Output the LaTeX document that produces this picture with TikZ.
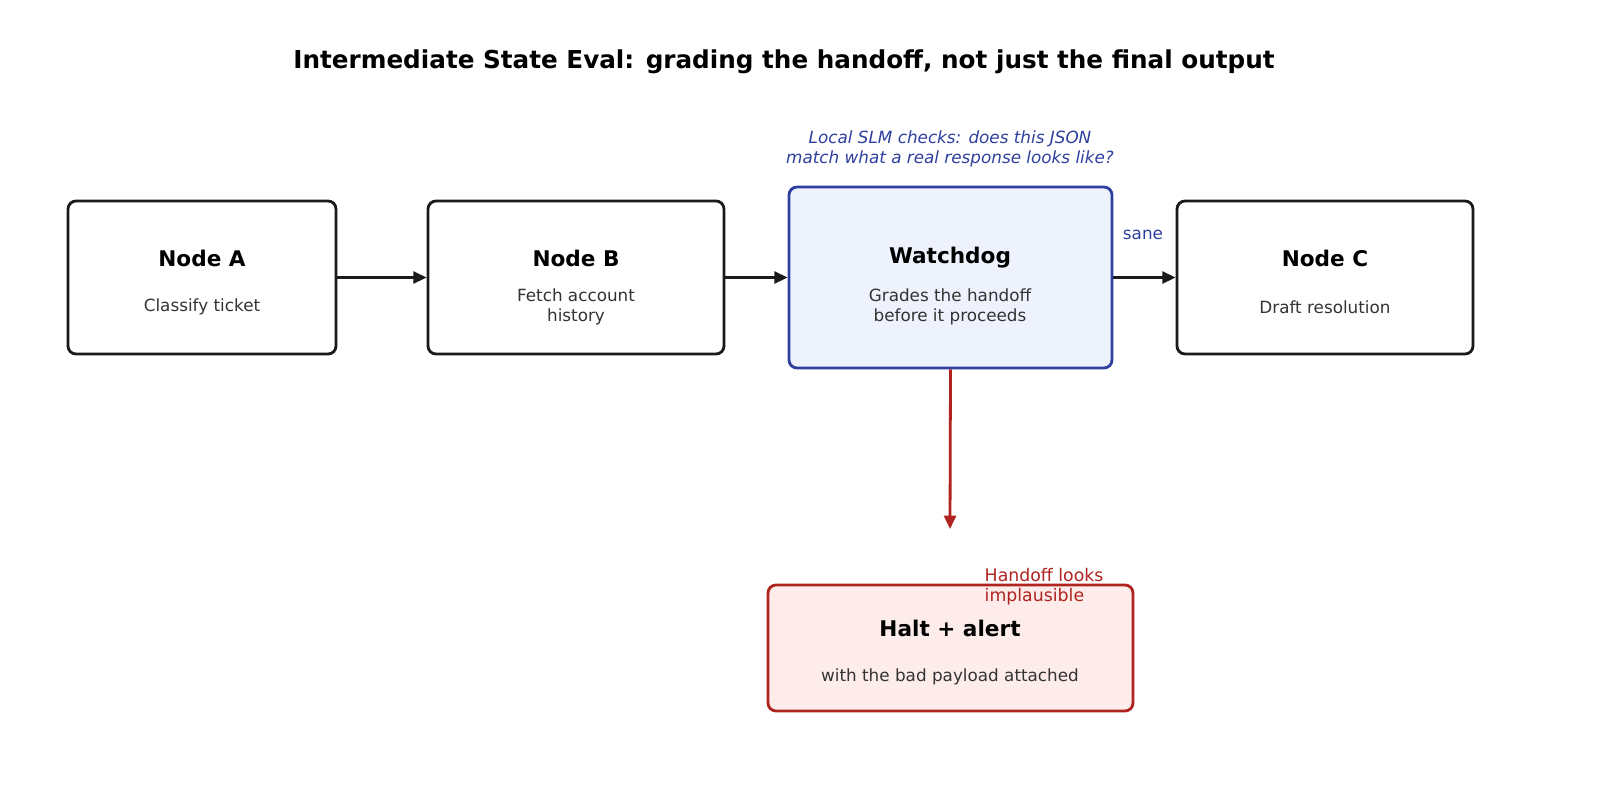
\documentclass[tikz,border=0pt]{standalone}
\usepackage{fontspec}
\setmainfont{DejaVu Sans}
\usetikzlibrary{arrows.meta}
\definecolor{bl}{HTML}{2E3F9E}
\definecolor{blf}{HTML}{EEF2FD}
\definecolor{rd}{HTML}{B02420}
\definecolor{rdf}{HTML}{FDECEA}
\definecolor{gr}{HTML}{333333}
\definecolor{dk}{HTML}{1A1A1A}
\begin{document}
\begin{tikzpicture}[x=0.75pt,y=-0.75pt,
 box/.style={draw=dk,line width=2.1pt,rounded corners=6pt,fill=white},
 ttl/.style={font=\fontsize{16.2}{19}\selectfont\bfseries},
 sub/.style={font=\fontsize{12.6}{14.5}\selectfont,text=gr,align=center},
 arr/.style={line width=2.1pt,draw=dk,-{Triangle[length=10pt,width=9pt]}}]
\node[font=\fontsize{18.5}{21}\selectfont\bfseries] (title) at (784,62) {Intermediate State Eval: grading the handoff, not just the final output};
\node[box,minimum width=268*0.75pt,minimum height=153*0.75pt] (A) at (202,277.5) {};
\node[box,minimum width=296*0.75pt,minimum height=153*0.75pt] (B) at (576,277.5) {};
\node[box,draw=bl,fill=blf,minimum width=323*0.75pt,minimum height=181*0.75pt] (W) at (950.5,277.5) {};
\node[box,minimum width=296*0.75pt,minimum height=153*0.75pt] (C) at (1325,277.5) {};
\node[box,draw=rd,fill=rdf,minimum width=365*0.75pt,minimum height=126*0.75pt] (H) at (950.5,648) {};
\node[ttl] (At) at (202,258) {Node A};
\node[sub] (As) at (202,307) {Classify ticket};
\node[ttl] (Bt) at (576,258) {Node B};
\node[sub] (Bs) at (576,307) {Fetch account\\history};
\node[ttl] (Wt) at (950,258) {Watchdog};
\node[sub] (Ws) at (950,307) {Grades the handoff\\before it proceeds};
\node[ttl] (Ct) at (1325,258) {Node C};
\node[sub] (Cs) at (1325,307) {Draft resolution};
\node[ttl] (Ht) at (950,628) {Halt + alert};
\node[sub] (Hs) at (950,677) {with the bad payload attached};
\node[font=\fontsize{12.6}{14.5}\selectfont\itshape,text=bl,align=center] (note) at (950,149) {Local SLM checks: does this JSON\\match what a real response looks like?};
\node[font=\fontsize{12.6}{14.5}\selectfont,text=bl] (sane) at (1143,235) {sane};
\node[font=\fontsize{13}{15}\selectfont,text=rd,align=left,anchor=west] (hl) at (980,587) {Handoff looks\\implausible};
\coordinate (down) at (950,529);
\draw[arr] (A) -- (B);
\draw[arr] (B) -- (W);
\draw[arr] (W) -- (C);
\draw[arr,draw=rd] (W.south) -- (down);
\pgfresetboundingbox
\useasboundingbox (0,0) rectangle (1600,800);
\end{tikzpicture}
\end{document}
